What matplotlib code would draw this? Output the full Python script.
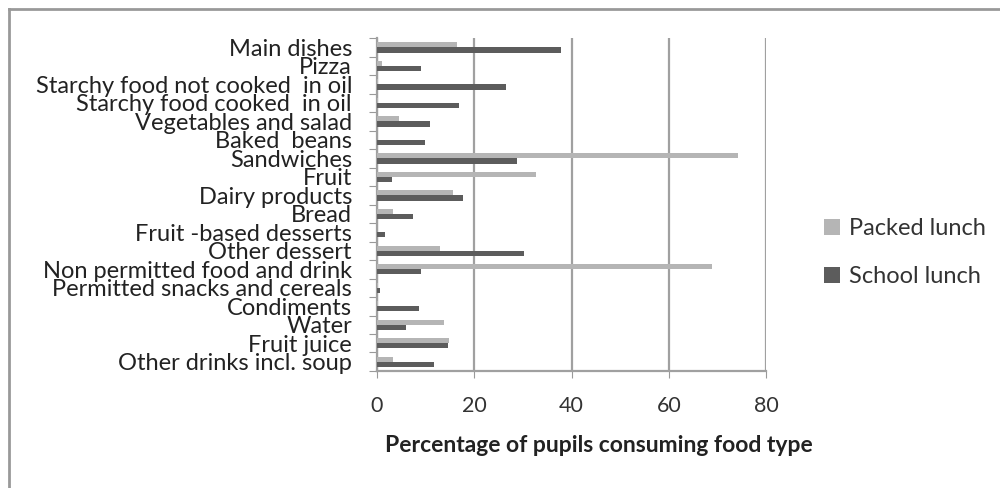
import numpy as np
import matplotlib.pyplot as plt
from matplotlib.lines import Line2D

plt.rcParams['font.family'] = ['Lato', 'DejaVu Sans']

foods = ["Main dishes", "Pizza", "Starchy food not cooked  in oil",
         "Starchy food cooked  in oil", "Vegetables and salad", "Baked  beans",
         "Sandwiches", "Fruit", "Dairy products", "Bread",
         "Fruit -based desserts", "Other dessert",
         "Non permitted food and drink", "Permitted snacks and cereals",
         "Condiments", "Water", "Fruit juice", "Other drinks incl. soup"]
packed = [16.4, 1.0, 0.3, 0.3, 4.6, 0.0, 74.2, 32.8, 15.7, 3.2,
          0.0, 13.0, 68.9, 0.3, 0.2, 13.8, 14.8, 3.2]
school = [37.9, 9.1, 26.5, 16.9, 10.9, 9.9, 28.8, 3.0, 17.6, 7.5,
          1.7, 30.2, 9.1, 0.6, 8.6, 5.9, 14.6, 11.7]
xticks = [0, 20, 40, 60, 80]

fig = plt.figure(figsize=(10, 4.88), dpi=100)
ax = fig.add_axes([0.377, 0.2398, 0.389, 0.682])

y = np.arange(len(foods))
h = 0.28
ax.barh(y - h / 2, packed, height=h, color='#b5b5b5', label='Packed lunch', zorder=3)
ax.barh(y + h / 2, school, height=h, color='#5c5c5c', label='School lunch', zorder=3)

ax.set_xlim(0, 80)
ax.set_ylim(len(foods) - 0.5, -0.5)
ax.set_xticks(xticks)
ax.set_xticklabels([str(t) for t in xticks], fontsize=15.5, color='#333333')
ax.tick_params(axis='x', length=5, color='#999999', pad=13)
ax.xaxis.grid(True, color='#a0a0a0', linewidth=1.6, zorder=0)

# labels at category centres, tick marks between categories
ax.set_yticks(np.arange(len(foods) + 1) - 0.5)
ax.set_yticklabels([])
ax.set_yticks(y, minor=True)
ax.set_yticklabels(foods, minor=True, fontsize=17, color='#222222')
ax.tick_params(axis='y', which='minor', length=0, pad=18)
ax.tick_params(axis='y', which='major', length=6, color='#999999')

for side in ['top', 'right']:
    ax.spines[side].set_visible(False)
for side in ['left', 'bottom']:
    ax.spines[side].set_color('#a0a0a0')
    ax.spines[side].set_linewidth(1.6)

fig.text(0.599, 1 - 445 / 488, "Percentage of pupils consuming food type",
         ha='center', va='center', fontsize=16.5, fontweight='bold', color='#222222')

leg = fig.legend(loc='center left', bbox_to_anchor=(0.803, 0.482), frameon=False,
                 fontsize=17, handlelength=0.65, handleheight=0.65, handletextpad=0.4,
                 labelspacing=1.15, labelcolor='#333333')

# outer chart border (left and top edges)
fig.add_artist(Line2D([0.009, 0.009], [0, 1 - 9 / 488], color='#999999', linewidth=2))
fig.add_artist(Line2D([0.009, 1], [1 - 9 / 488, 1 - 9 / 488], color='#999999', linewidth=2))

fig.savefig('out.png', dpi=100)
